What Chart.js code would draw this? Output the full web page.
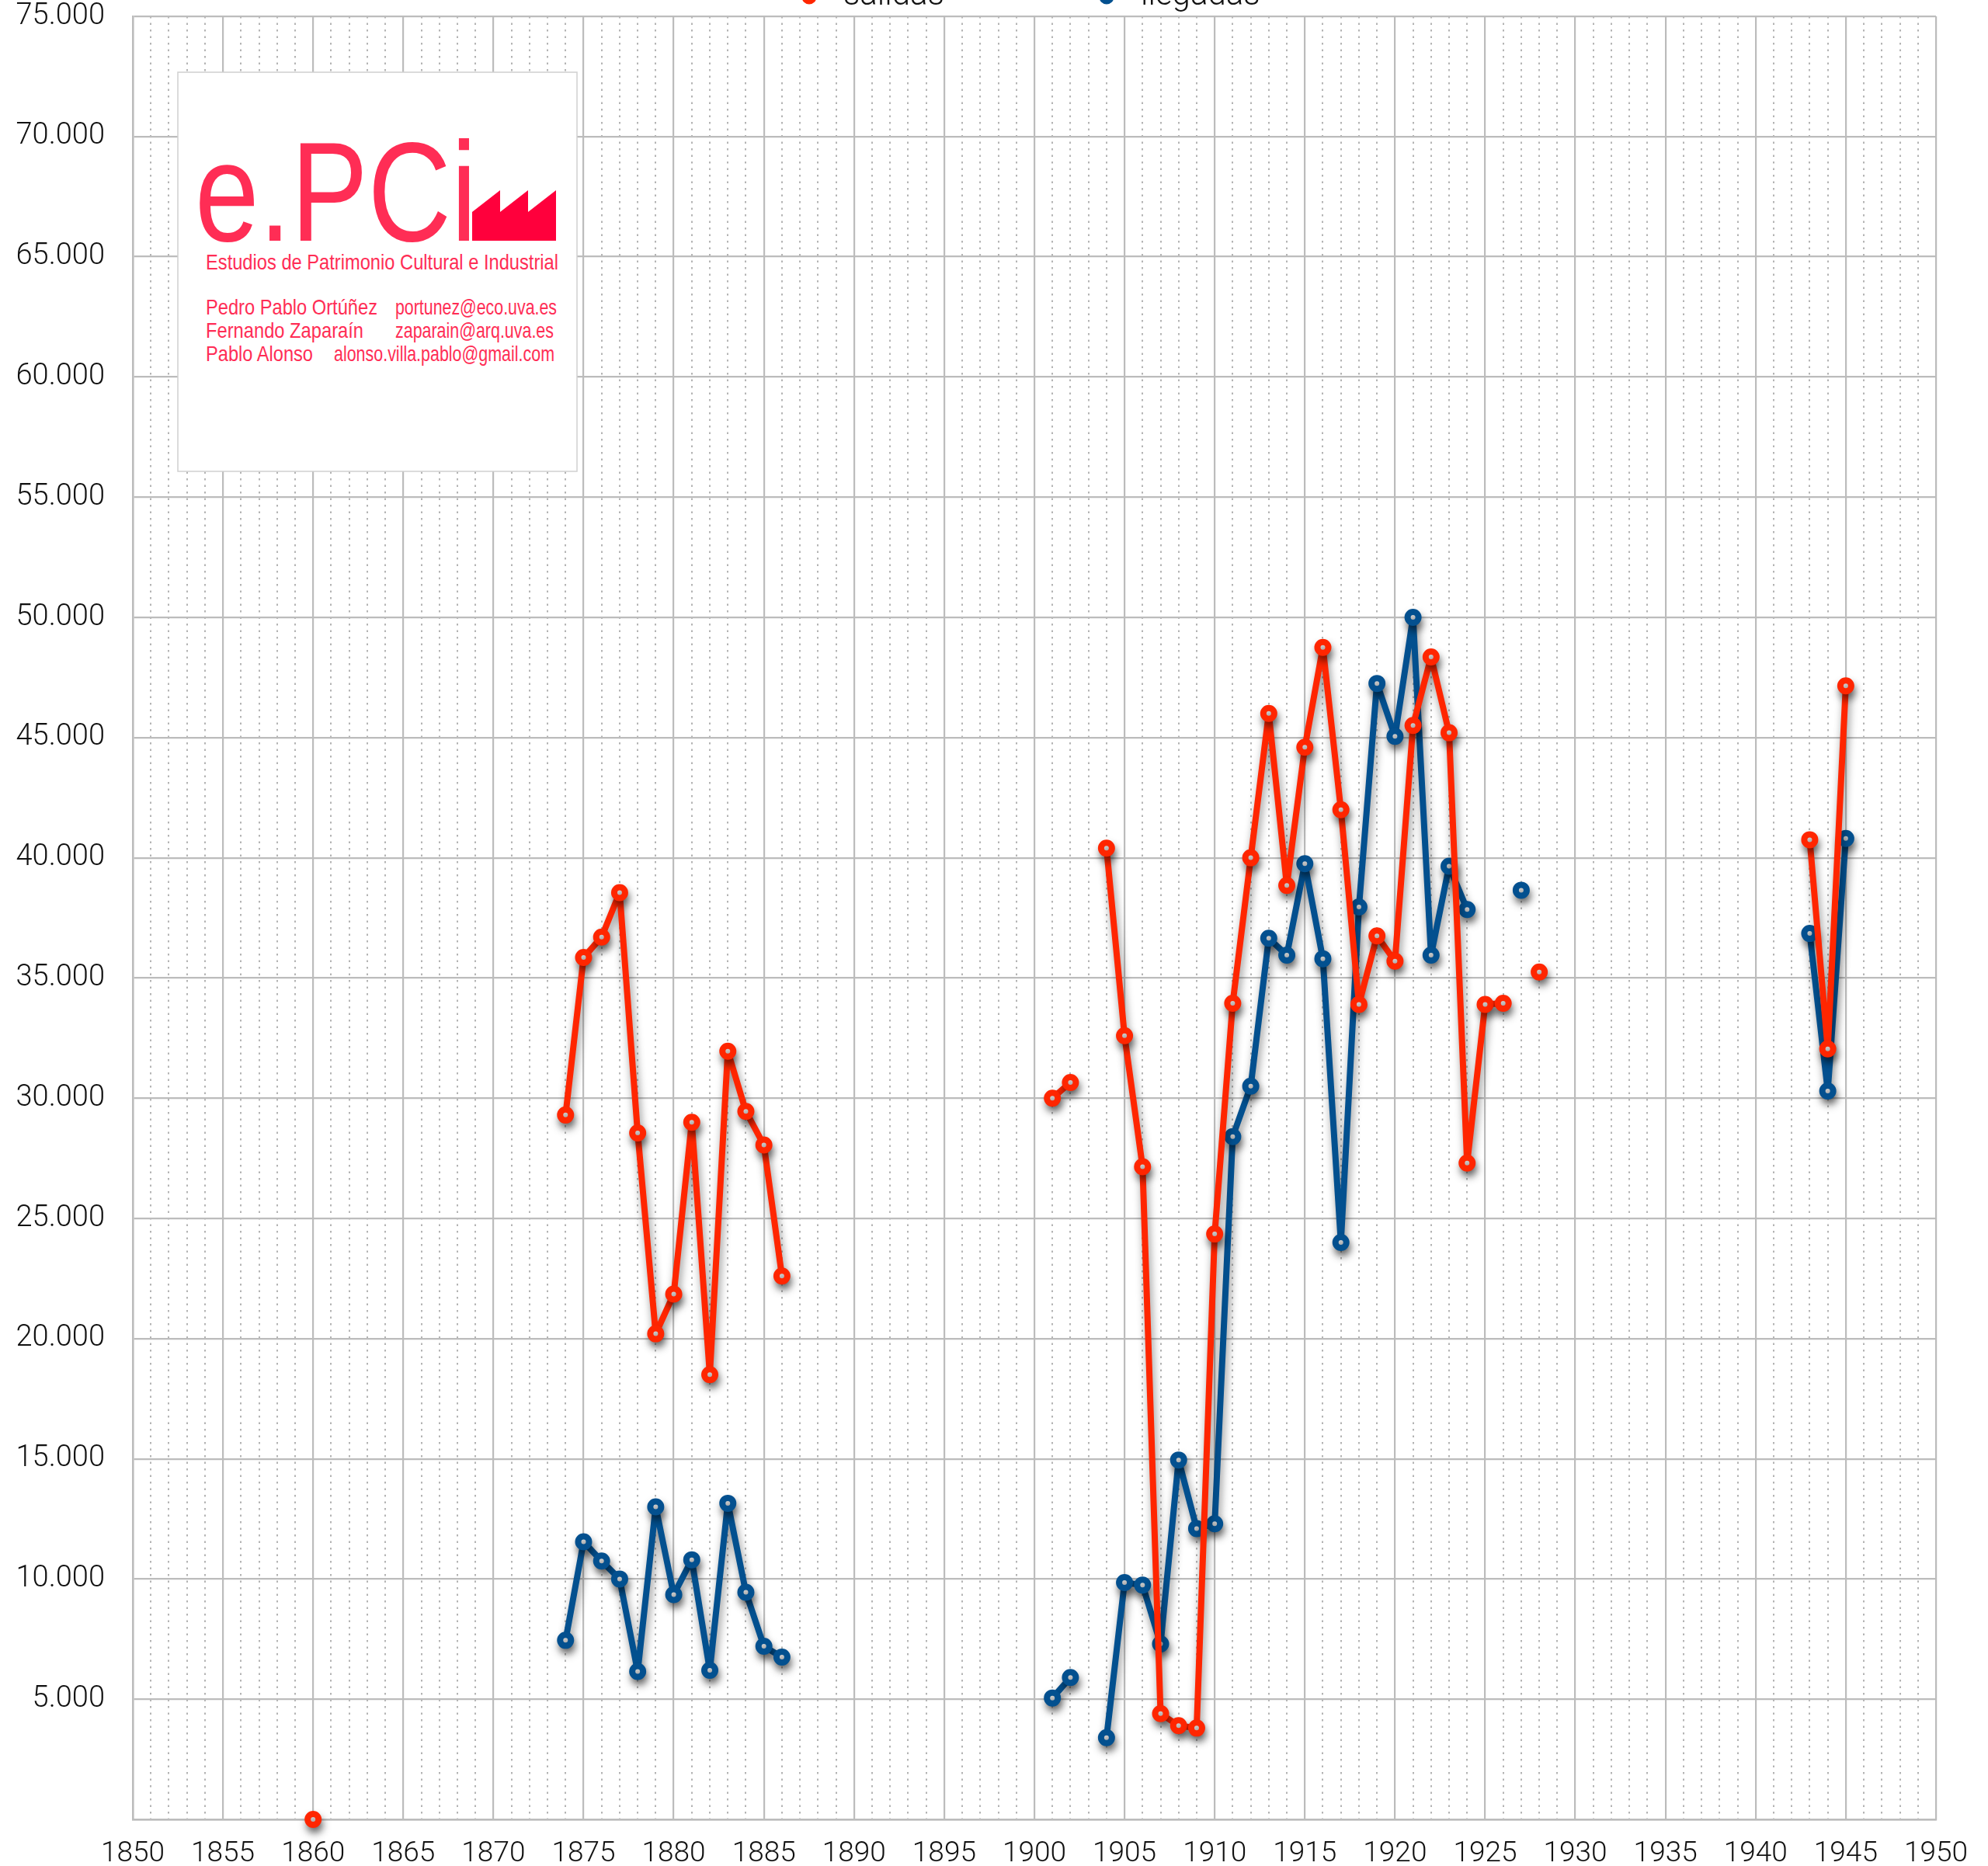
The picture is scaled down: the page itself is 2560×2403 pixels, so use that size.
<!DOCTYPE html>
<html>
<head>
<meta charset="utf-8">
<script src="https://cdn.jsdelivr.net/npm/chart.js@4.4.1/dist/chart.umd.min.js"></script>
<style>
  html, body { margin: 0; padding: 0; background: #ffffff; overflow: hidden; }
  #wrap { position: relative; width: 2560px; height: 2403px; }
  #c { position: absolute; left: 0; top: 0; }
  #logo { position: absolute; left: 0; top: 0; pointer-events: none; }
</style>
</head>
<body>
<div id="wrap">
  <canvas id="c" width="2560" height="2403"></canvas>
  <svg id="logo" width="2560" height="2403" xmlns="http://www.w3.org/2000/svg">
    <rect x="229" y="93" width="514" height="514" fill="#ffffff" stroke="#d0d0d0" stroke-width="1.5"/>
    <text x="251" y="310" font-family="Liberation Sans, Arial, sans-serif" font-size="182" fill="#ff2d55" textLength="363" lengthAdjust="spacingAndGlyphs">e.PCi</text>
    <polygon points="608,273 644,245 644,273 680,245 680,273 716,245 716,310 608,310" fill="#ff003c"/>
    <text x="265" y="347" font-family="Liberation Sans, Arial, sans-serif" font-size="28" fill="#ff2d55" textLength="454" lengthAdjust="spacingAndGlyphs">Estudios de Patrimonio Cultural e Industrial</text>
    <text x="265" y="405" font-family="Liberation Sans, Arial, sans-serif" font-size="28" fill="#ff2d55" textLength="221" lengthAdjust="spacingAndGlyphs">Pedro Pablo Ortúñez</text>
    <text x="509" y="405" font-family="Liberation Sans, Arial, sans-serif" font-size="28" fill="#ff2d55" textLength="208" lengthAdjust="spacingAndGlyphs">portunez@eco.uva.es</text>
    <text x="265" y="435" font-family="Liberation Sans, Arial, sans-serif" font-size="28" fill="#ff2d55" textLength="203" lengthAdjust="spacingAndGlyphs">Fernando Zaparaín</text>
    <text x="509" y="435" font-family="Liberation Sans, Arial, sans-serif" font-size="28" fill="#ff2d55" textLength="204" lengthAdjust="spacingAndGlyphs">zaparain@arq.uva.es</text>
    <text x="265" y="465" font-family="Liberation Sans, Arial, sans-serif" font-size="28" fill="#ff2d55" textLength="138" lengthAdjust="spacingAndGlyphs">Pablo Alonso</text>
    <text x="430" y="465" font-family="Liberation Sans, Arial, sans-serif" font-size="28" fill="#ff2d55" textLength="284" lengthAdjust="spacingAndGlyphs">alonso.villa.pablo@gmail.com</text>
  </svg>
</div>
<script>
// ---- DATA ----
const seriesNames = ['salidas', 'llegadas'];
// years (null entries mark breaks in the lines)
const years = [1860, 1870,
  1874, 1875, 1876, 1877, 1878, 1879, 1880, 1881, 1882, 1883, 1884, 1885, 1886,
  1890, 1901, 1902, 1903,
  1904, 1905, 1906, 1907, 1908, 1909, 1910, 1911, 1912, 1913, 1914, 1915, 1916,
  1917, 1918, 1919, 1920, 1921, 1922, 1923, 1924, 1925, 1926, 1927, 1928,
  1935, 1943, 1944, 1945];
const salidas = [0, null,
  29300, 35850, 36700, 38550, 28550, 20200, 21850, 29000, 18500, 31950, 29450, 28050, 22600,
  null, 30000, 30650, null,
  40400, 32600, 27150, 4400, 3900, 3800, 24350, 33950, 40000, 46000, 38850, 44600, 48750,
  42000, 33900, 36750, 35700, 45500, 48350, 45200, 27300, 33900, 33950, null, 35250,
  null, 40750, 32050, 47150];
const llegadas = [null, null,
  7450, 11550, 10750, 10000, 6150, 13000, 9350, 10800, 6200, 13150, 9450, 7200, 6750,
  null, 5050, 5900, null,
  3400, 9850, 9750, 7300, 14950, 12100, 12300, 28400, 30500, 36650, 35950, 39750, 35800,
  24000, 37950, 47250, 45050, 50000, 35950, 39650, 37850, null, null, 38650, null,
  null, 36850, 30300, 40800];
const xTickLabels = ['1850','1855','1860','1865','1870','1875','1880','1885','1890','1895',
  '1900','1905','1910','1915','1920','1925','1930','1935','1940','1945','1950'];
const yTickLabels = ['', '5.000','10.000','15.000','20.000','25.000','30.000','35.000','40.000',
  '45.000','50.000','55.000','60.000','65.000','70.000','75.000'];

// ---- STYLE ----
const RED = '#ff2600';
const BLUE = '#03508f';
const GRID = '#bcbcbc';
const DOT = '#b4b4b4';
const TICK_FONT = 'Roboto, "Liberation Sans", sans-serif';

function pts(vals) { return years.map((yr, i) => ({ x: yr, y: vals[i] })); }

const shadowPlugin = {
  id: 'shadow',
  beforeDatasetsDraw(chart) {
    const ctx = chart.ctx;
    ctx.save();
    ctx.shadowColor = 'rgba(0,0,0,0.45)';
    ctx.shadowBlur = 11;
    ctx.shadowOffsetX = 2;
    ctx.shadowOffsetY = 7;
  },
  afterDatasetsDraw(chart) { chart.ctx.restore(); }
};

const legendPlugin = {
  id: 'topLegend',
  afterDraw(chart) {
    const ctx = chart.ctx;
    const ca = chart.chartArea;
    const cx = (ca.left + ca.right) / 2;
    const offsets = [-290, 93];
    ctx.save();
    ctx.font = '300 42px ' + TICK_FONT;
    ctx.textBaseline = 'alphabetic';
    ctx.textAlign = 'left';
    chart.data.datasets.forEach((ds, i) => {
      const px = cx + offsets[i];
      ctx.beginPath();
      ctx.arc(px, -4, 6, 0, Math.PI * 2);
      ctx.fillStyle = '#ffffff';
      ctx.fill();
      ctx.lineWidth = 7;
      ctx.strokeStyle = ds.borderColor;
      ctx.stroke();
      ctx.fillStyle = '#111111';
      ctx.fillText(ds.label, px + 44, 6);
    });
    ctx.restore();
  }
};

const dsCommon = {
  borderWidth: 8,
  borderJoinStyle: 'round',
  borderCapStyle: 'round',
  pointRadius: 7,
  pointHoverRadius: 7,
  pointBorderWidth: 8,
  pointBackgroundColor: '#ffffff',
  spanGaps: false,
  tension: 0,
  clip: false
};

new Chart(document.getElementById('c'), {
  type: 'line',
  data: {
    datasets: [
      Object.assign({ label: seriesNames[0], data: pts(salidas), borderColor: RED, pointBorderColor: RED }, dsCommon),
      Object.assign({ label: seriesNames[1], data: pts(llegadas), borderColor: BLUE, pointBorderColor: BLUE }, dsCommon)
    ]
  },
  plugins: [shadowPlugin, legendPlugin],
  options: {
    responsive: false,
    animation: false,
    devicePixelRatio: 1,
    layout: { autoPadding: false, padding: { top: 21, right: 67, bottom: 0, left: 0 } },
    plugins: { legend: { display: false }, tooltip: { enabled: false } },
    scales: {
      x: {
        type: 'linear',
        min: 1850, max: 1950,
        afterFit(s) { s.height = 60; s.paddingTop = 0; s.paddingBottom = 0; },
        ticks: {
          stepSize: 1,
          autoSkip: false,
          maxRotation: 0,
          padding: 26,
          color: '#111111',
          font: { family: TICK_FONT, size: 37, weight: '300', lineHeight: 1 },
          callback: (v) => (v % 5 === 0 ? xTickLabels[(v - 1850) / 5] : '')
        },
        grid: {
          drawTicks: false,
          color: (c) => (c.tick && c.tick.value % 5 !== 0 ? DOT : GRID),
          lineWidth: (c) => (c.tick && c.tick.value % 5 !== 0 ? 2 : 2.2)
        },
        border: {
          display: true, color: GRID, width: 2.5,
          dash: (c) => (c.tick && c.tick.value % 5 !== 0 ? [2.5, 6] : [])
        }
      },
      y: {
        type: 'linear',
        min: 0, max: 75000,
        afterFit(s) { s.width = 171; s.paddingTop = 0; s.paddingBottom = 0; },
        ticks: {
          stepSize: 5000,
          padding: 36,
          color: '#111111',
          font: { family: TICK_FONT, size: 38, weight: '300', lineHeight: 1 },
          callback: (v) => yTickLabels[v / 5000]
        },
        grid: { drawTicks: false, color: GRID, lineWidth: 2.2 },
        border: { display: true, color: GRID, width: 2.5 }
      }
    }
  }
});
</script>
</body>
</html>
